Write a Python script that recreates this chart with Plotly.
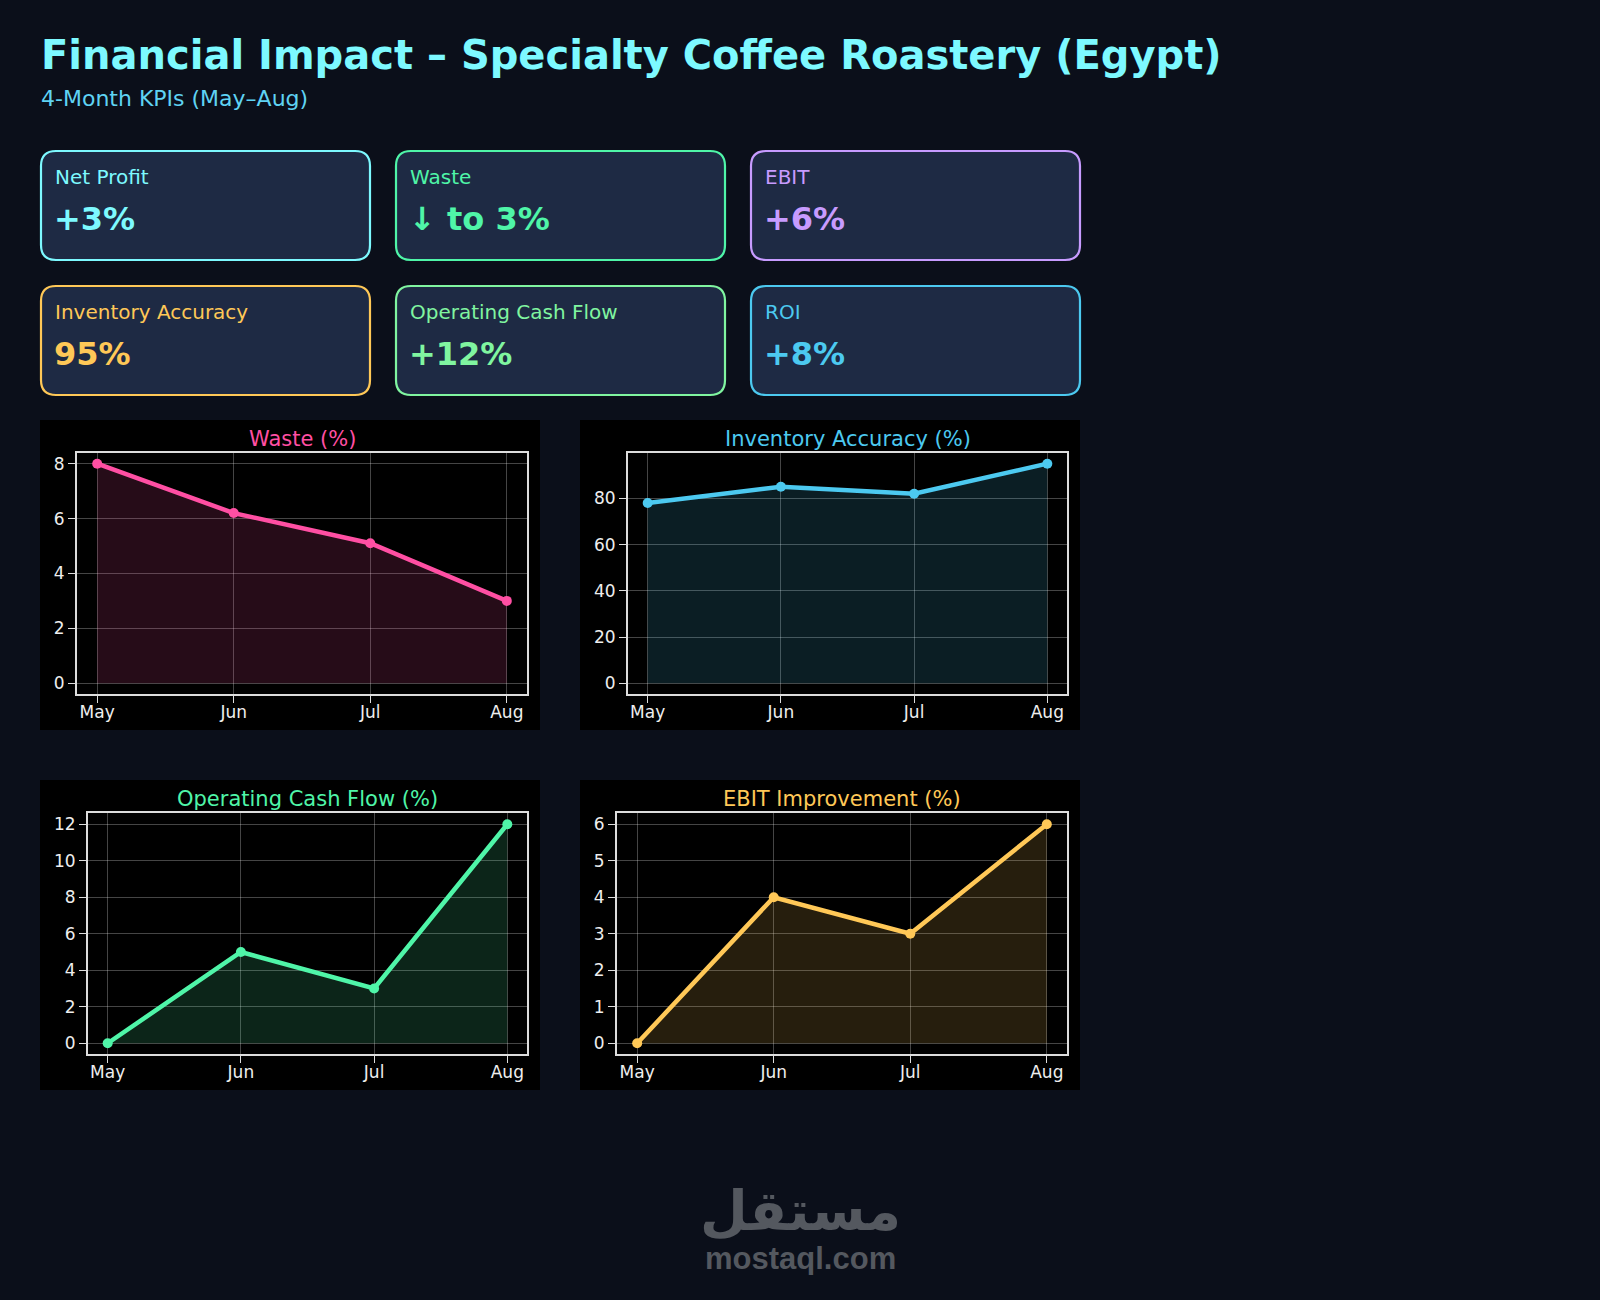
import plotly.graph_objects as go

# ---------------- data ----------------
months = ["May", "Jun", "Jul", "Aug"]
waste_pct = [8.0, 6.2, 5.1, 3.0]
inventory_accuracy = [78, 85, 82, 95]
operating_cash_flow = [0, 5, 3, 12]
ebit_improvement = [0, 4, 3, 6]

kpi_labels = ["Net Profit", "Waste", "EBIT", "Inventory Accuracy", "Operating Cash Flow", "ROI"]
kpi_values = ["+3%", "↓ to 3%", "+6%", "95%", "+12%", "+8%"]
kpi_colors = ["#7df9ff", "#4ff5a8", "#c79bff", "#ffc857", "#80f5a0", "#4cc9f0"]

chart_titles = ["Waste (%)", "Inventory Accuracy (%)", "Operating Cash Flow (%)", "EBIT Improvement (%)"]
chart_colors = ["#ff4fa3", "#4cc9f0", "#4ff5a8", "#ffc857"]
chart_series = [waste_pct, inventory_accuracy, operating_cash_flow, ebit_improvement]
y_ticks = [[0, 2, 4, 6, 8], [0, 20, 40, 60, 80], [0, 2, 4, 6, 8, 10, 12], [0, 1, 2, 3, 4, 5, 6]]

title_text = "Financial Impact – Specialty Coffee Roastery (Egypt)"
subtitle_text = "4-Month KPIs (May–Aug)"

# ---------------- layout helpers ----------------
W, H = 1600, 1300
BG = "#0b0f1a"
CARD_BG = "#1e2a44"
FONT = "DejaVu Sans"


def X(px):
    return px / W


def Y(py):
    return 1 - py / H


def hex_rgba(h, a):
    h = h.lstrip("#")
    r, g, b = int(h[0:2], 16), int(h[2:4], 16), int(h[4:6], 16)
    return f"rgba({r},{g},{b},{a})"


def rounded_rect(x0, y0, x1, y1, r):
    pts = [
        f"M {X(x0 + r)} {Y(y0)}",
        f"L {X(x1 - r)} {Y(y0)}",
        f"Q {X(x1)} {Y(y0)} {X(x1)} {Y(y0 + r)}",
        f"L {X(x1)} {Y(y1 - r)}",
        f"Q {X(x1)} {Y(y1)} {X(x1 - r)} {Y(y1)}",
        f"L {X(x0 + r)} {Y(y1)}",
        f"Q {X(x0)} {Y(y1)} {X(x0)} {Y(y1 - r)}",
        f"L {X(x0)} {Y(y0 + r)}",
        f"Q {X(x0)} {Y(y0)} {X(x0 + r)} {Y(y0)}",
        "Z",
    ]
    return " ".join(pts)


fig = go.Figure()
shapes = []
annotations = []

# title
annotations.append(dict(text=f"<b>{title_text}</b>", x=X(39), y=Y(55), xref="paper", yref="paper",
                        xanchor="left", yanchor="middle", showarrow=False,
                        font=dict(family=FONT, size=40, color="#7df9ff")))
annotations.append(dict(text=subtitle_text, x=X(39), y=Y(98), xref="paper", yref="paper",
                        xanchor="left", yanchor="middle", showarrow=False,
                        font=dict(family=FONT, size=22, color="#5fd3f3")))

# KPI cards
card_x = [41, 396, 751]
card_y = [151, 286]
card_w, card_h = 329, 109
for i, (lab, val, col) in enumerate(zip(kpi_labels, kpi_values, kpi_colors)):
    cx = card_x[i % 3]
    cy = card_y[i // 3]
    shapes.append(dict(type="path", xref="paper", yref="paper",
                       path=rounded_rect(cx, cy, cx + card_w, cy + card_h, 15),
                       fillcolor=CARD_BG, line=dict(color=col, width=2.2), layer="below"))
    annotations.append(dict(text=lab, x=X(cx + 12), y=Y(cy + 26), xref="paper", yref="paper",
                            xanchor="left", yanchor="middle", showarrow=False,
                            font=dict(family=FONT, size=20, color=col)))
    annotations.append(dict(text=f"<b>{val}</b>", x=X(cx + 11), y=Y(cy + 68), xref="paper", yref="paper",
                            xanchor="left", yanchor="middle", showarrow=False,
                            font=dict(family=FONT, size=32, color=col)))

# chart panels (pixel boxes)
panels = [(40, 420, 540, 730), (580, 420, 1080, 730), (40, 780, 540, 1090), (580, 780, 1080, 1090)]
plot_areas = [(76.7, 452.7, 527.3, 694.2), (627.7, 452.7, 1067.3, 694.2),
              (87.7, 813.3, 527.3, 1054.2), (616.7, 813.3, 1067.3, 1054.2)]

for k in range(4):
    px0, py0, px1, py1 = panels[k]
    shapes.append(dict(type="rect", xref="paper", yref="paper", x0=X(px0), x1=X(px1), y0=Y(py1), y1=Y(py0),
                       fillcolor="#000000", line=dict(width=0), layer="below"))
    ax0, ay0, ax1, ay1 = plot_areas[k]
    xa = "x" if k == 0 else f"x{k + 1}"
    ya = "y" if k == 0 else f"y{k + 1}"
    vals = chart_series[k]
    col = chart_colors[k]
    fig.add_trace(go.Scatter(x=months, y=vals, xaxis=xa, yaxis=ya, mode="lines+markers",
                             line=dict(color=col, width=4.5), marker=dict(color=col, size=10),
                             fill="tozeroy", fillcolor=hex_rgba(col, 0.15), showlegend=False,
                             hoverinfo="x+y"))
    ymax = max(vals)
    ymin = min(0, min(vals))
    pad = (ymax - ymin) * 0.05
    axis_common = dict(showline=True, mirror=True, linecolor="#dddddd", linewidth=1.5,
                       ticks="outside", ticklen=7, tickwidth=1.3, tickcolor="#dddddd",
                       showgrid=True, gridcolor="rgba(255,255,255,0.27)", gridwidth=1,
                       zeroline=False, tickfont=dict(family=FONT, size=17, color="#eeeeee"))
    xkey = "xaxis" if k == 0 else f"xaxis{k + 1}"
    ykey = "yaxis" if k == 0 else f"yaxis{k + 1}"
    fig.update_layout(**{
        xkey: dict(domain=[X(ax0), X(ax1)], anchor=ya, type="category", categoryorder="array",
                   categoryarray=months, range=[-0.15, 3.15], ticklabelstandoff=-5, **axis_common),
        ykey: dict(domain=[Y(ay1), Y(ay0)], anchor=xa, range=[ymin - pad, ymax + pad],
                   tickvals=y_ticks[k], ticklabelstandoff=0, **axis_common),
    })
    annotations.append(dict(text=chart_titles[k], x=X((ax0 + ax1) / 2), y=Y(py0 + 18.5),
                            xref="paper", yref="paper", xanchor="center", yanchor="middle",
                            showarrow=False, font=dict(family=FONT, size=21, color=col)))

# watermark
annotations.append(dict(text="<b>مستقل</b>", x=X(800), y=Y(1211), xref="paper", yref="paper",
                        xanchor="center", yanchor="middle", showarrow=False, height=56,
                        font=dict(family=FONT, size=55, color="#54585f")))
annotations.append(dict(text="<b>mostaql.com</b>", x=X(800), y=Y(1258), xref="paper", yref="paper",
                        xanchor="center", yanchor="middle", showarrow=False, height=34,
                        font=dict(family="Liberation Sans", size=31, color="#54585f")))

fig.update_layout(width=W, height=H, margin=dict(l=0, r=0, t=0, b=0, pad=0),
                  paper_bgcolor=BG, plot_bgcolor="#000000", shapes=shapes, annotations=annotations,
                  showlegend=False)

fig.write_html("out.html",
               config={"displayModeBar": False},
               post_script="document.body.style.margin='0';document.body.style.padding='0';"
                           "document.body.style.overflow='hidden';"
                           "document.body.style.background='#0b0f1a';")
